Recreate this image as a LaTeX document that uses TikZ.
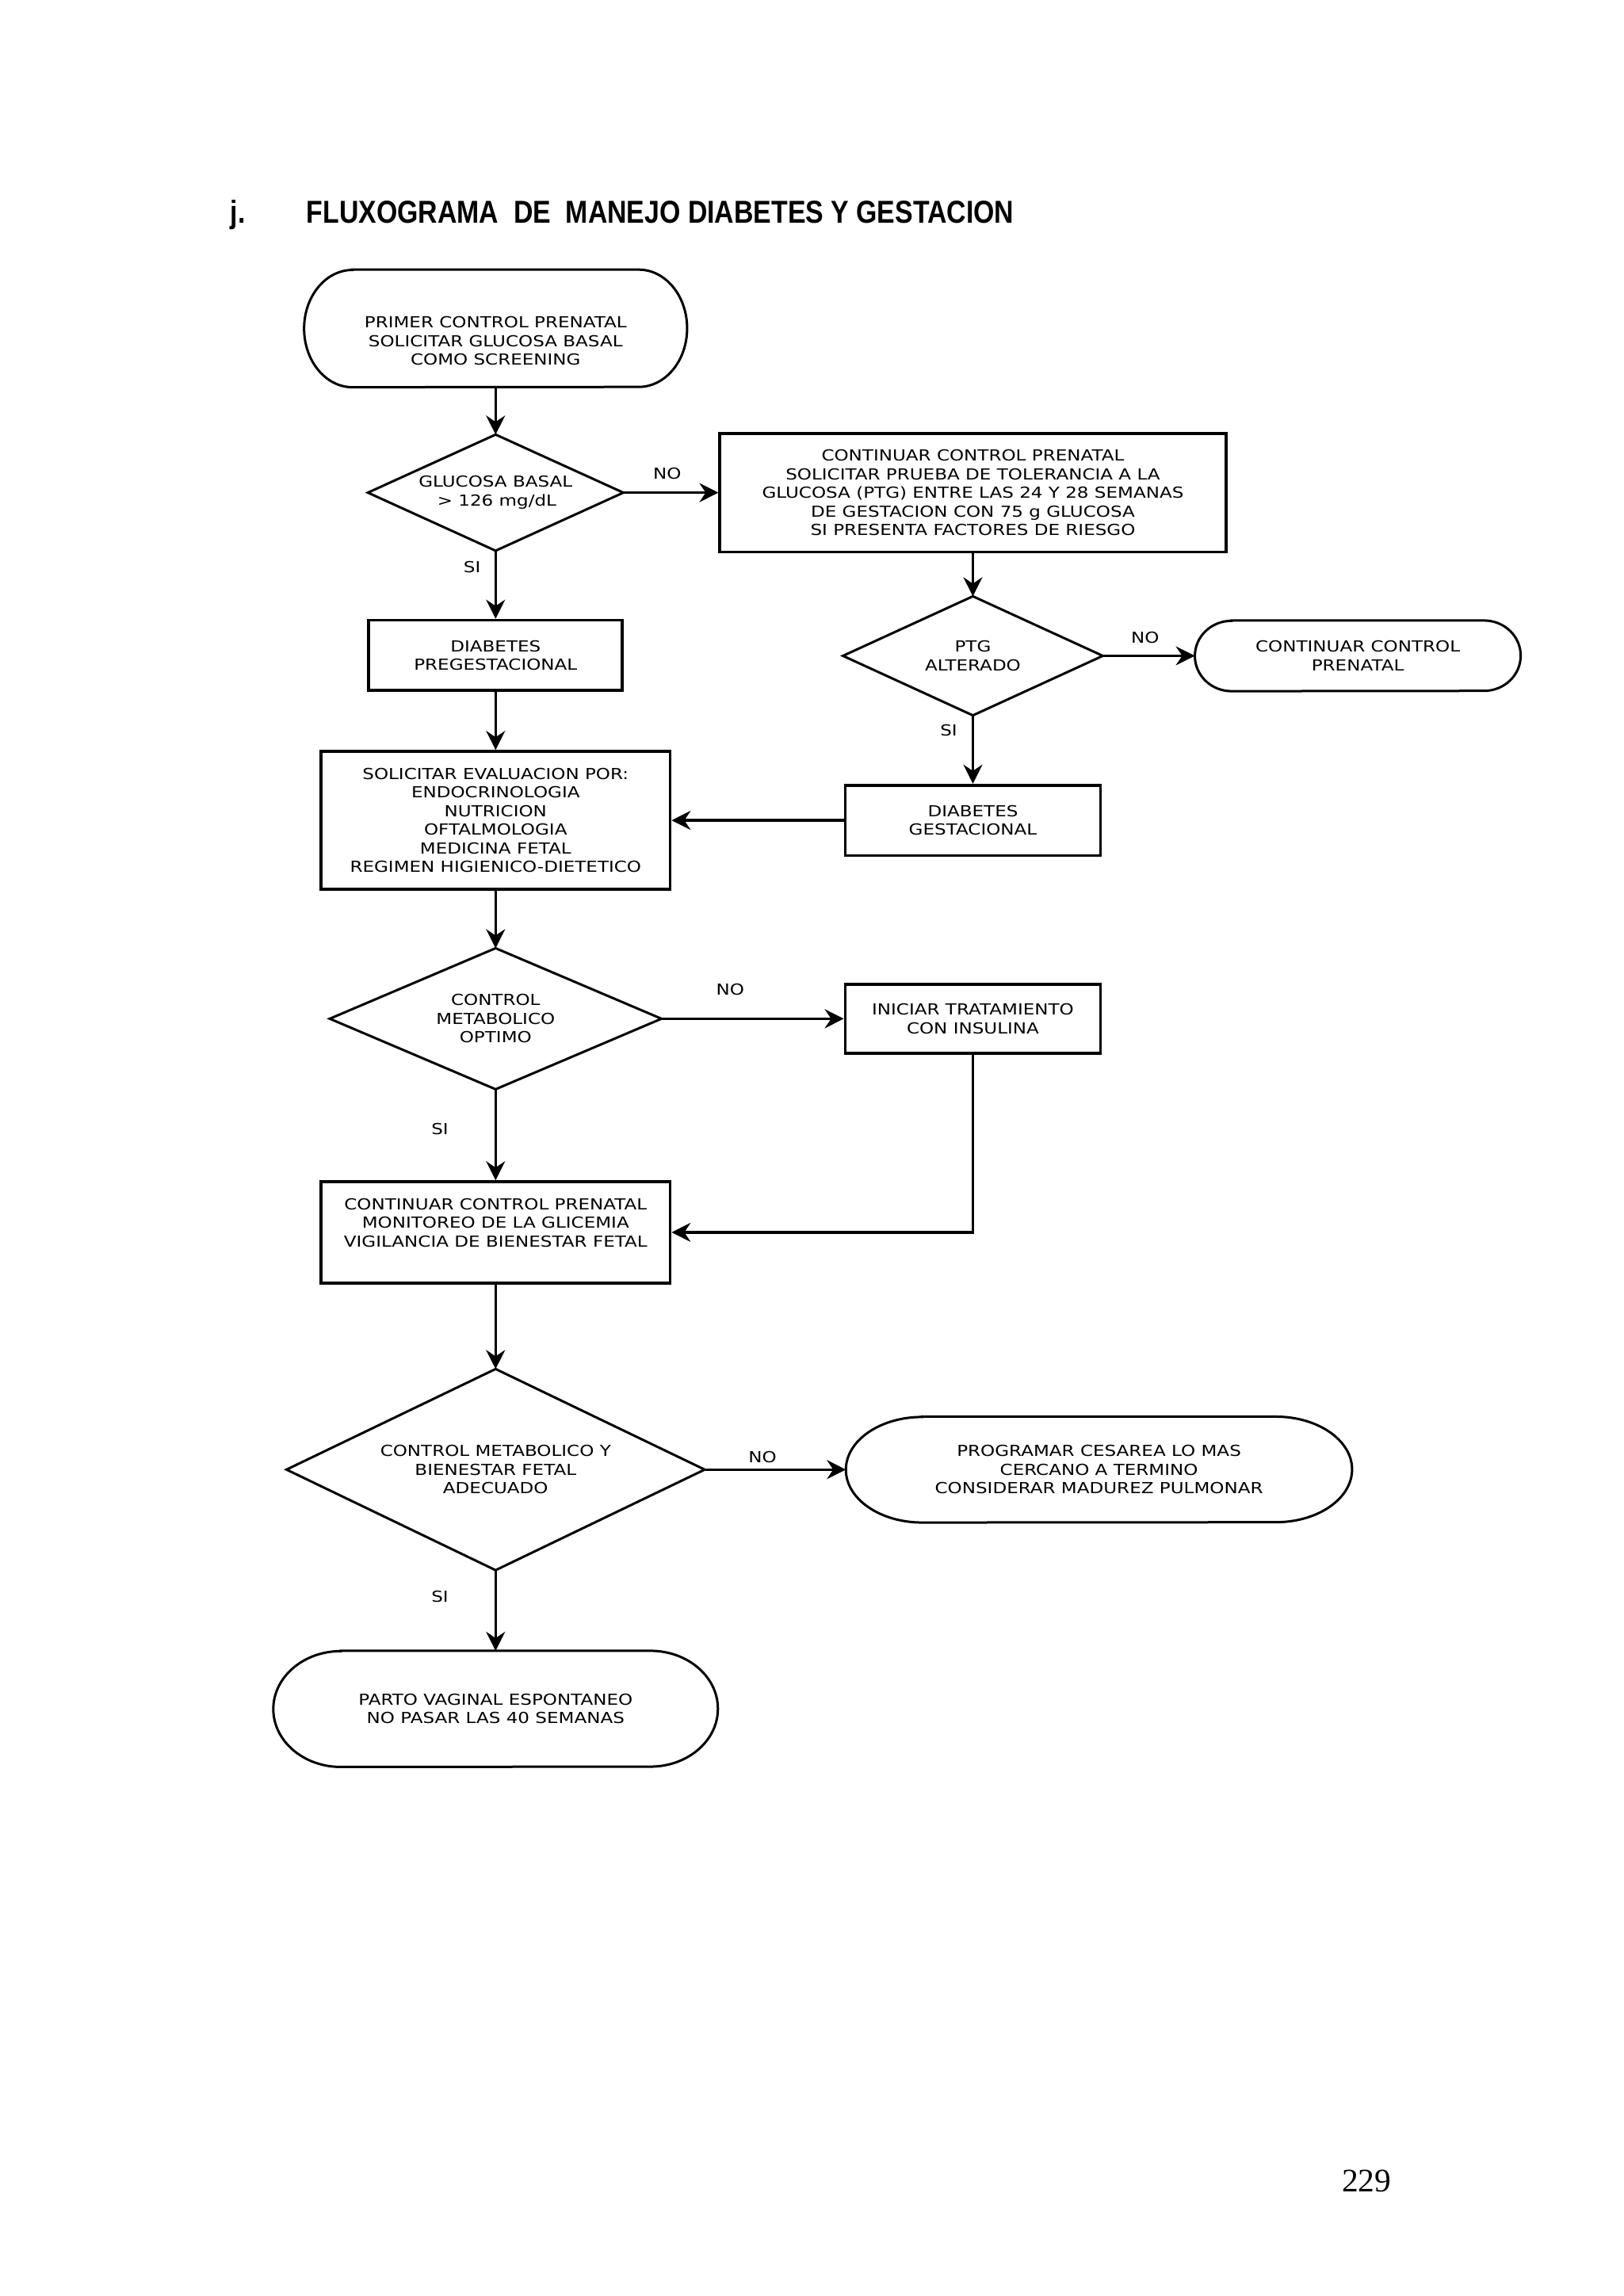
\documentclass[tikz,border=0pt]{standalone}
\usepackage{fontspec}
\usetikzlibrary{arrows.meta}
\newfontfamily\bodyff[FakeStretch=1.2]{DejaVu Sans}
\newfontfamily\titleff[FakeStretch=0.846]{Liberation Sans}
\newfontfamily\pageff{Liberation Serif}
\newcommand\bodyf{\bodyff\fontsize{19.2pt}{23.5pt}\selectfont}
\newcommand\titlef{\titleff\bfseries\fontsize{40pt}{46pt}\selectfont}
\newcommand\pagef{\pageff\fontsize{41.5pt}{48pt}\selectfont}
\newcommand\drawdia[1]{\draw[shapeline] (#1.north) -- (#1.east) -- (#1.south) -- (#1.west) -- cycle;}
\newcommand\drawterm[3]{\draw[shapeline] ([xshift=#2*1.85pt]#1.north west) -- ([xshift=-#2*1.85pt]#1.north east) arc[start angle=90,end angle=-90,x radius=#2*1.85pt,y radius=#3*1.85pt] -- ([xshift=#2*1.85pt]#1.south west) arc[start angle=270,end angle=90,x radius=#2*1.85pt,y radius=#3*1.85pt] -- cycle;}
\tikzset{
  sz/.style 2 args={minimum width=#1*1.85pt, minimum height=#2*1.85pt},
  bx/.style={draw, line width=3.8pt, inner sep=0pt, align=center, font=\bodyf},
  shp/.style={inner sep=0pt, align=center, font=\bodyf},
  txt/.style={inner sep=0pt, align=center, font=\bodyf},
  shapeline/.style={line width=3pt, line join=miter},
  arr/.style={line width=3.2pt, -{Stealth[length=24pt,width=24pt,inset=8pt]}},
  lbl/.style={font=\bodyf, inner sep=0pt},
}
\begin{document}
\begin{tikzpicture}[x=1.85pt,y=-1.85pt]
\useasboundingbox (0,0) rectangle (1107.03,1565.95);
% title
\node[anchor=base west, font=\titlef, inner sep=0pt] (tj) at (157,152.4) {j.};
\node[anchor=base west, font=\titlef, inner sep=0pt] (title) at (209,152.4) {FLUXOGRAMA\ \ DE\ \ MANEJO DIABETES Y GESTACION};
% shapes
\node[shp, sz={261}{80}] (oval1) at (338,224) {};
\node[txt] (t1) at (338,232.5) {PRIMER CONTROL PRENATAL\\SOLICITAR GLUCOSA BASAL\\COMO SCREENING};
\drawterm{oval1}{33}{40}
\node[shp, sz={174}{79}] (dia1) at (338,336) {GLUCOSA BASAL\\\,> 126 mg/dL};
\drawdia{dia1}
\node[bx, sz={345}{81}] (box2) at (663.5,336) {CONTINUAR CONTROL PRENATAL\\SOLICITAR PRUEBA DE TOLERANCIA A LA\\GLUCOSA (PTG) ENTRE LAS 24 Y 28 SEMANAS\\DE GESTACION CON 75 g GLUCOSA\\SI PRESENTA FACTORES DE RIESGO};
\node[bx, sz={173}{48}] (box3) at (338,447) {DIABETES\\PREGESTACIONAL};
\node[shp, sz={177}{81}] (dia2) at (663.5,447.3) {PTG\\ALTERADO};
\drawdia{dia2}
\node[shp, sz={222}{48}] (oval2) at (926,447.3) {CONTINUAR CONTROL\\PRENATAL};
\drawterm{oval2}{25}{24}
\node[bx, sz={174}{48}] (box4) at (663.5,559.5) {DIABETES\\GESTACIONAL};
\node[bx, sz={238}{94}] (box5) at (338,559.5) {SOLICITAR EVALUACION POR:\\ENDOCRINOLOGIA\\NUTRICION\\OFTALMOLOGIA\\MEDICINA FETAL\\REGIMEN HIGIENICO-DIETETICO};
\node[shp, sz={226}{96}] (dia3) at (338,694.8) {CONTROL\\METABOLICO\\OPTIMO};
\drawdia{dia3}
\node[bx, sz={174}{47}] (box6) at (663.5,694.8) {INICIAR TRATAMIENTO\\CON INSULINA};
\node[bx, sz={238}{69}] (box7) at (338,840.5) {};
\node[txt] (t7) at (338,834) {CONTINUAR CONTROL PRENATAL\\MONITOREO DE LA GLICEMIA\\VIGILANCIA DE BIENESTAR FETAL};
\node[shp, sz={285}{137}] (dia4) at (338,1002.3) {CONTROL METABOLICO Y\\BIENESTAR FETAL\\ADECUADO};
\drawdia{dia4}
\node[shp, sz={345}{72}] (oval3) at (749.5,1002.3) {PROGRAMAR CESAREA LO MAS\\CERCANO A TERMINO\\CONSIDERAR MADUREZ PULMONAR};
\drawterm{oval3}{52}{36}
\node[shp, sz={303}{79}] (oval4) at (338,1165.5) {PARTO VAGINAL ESPONTANEO\\NO PASAR LAS 40 SEMANAS};
\drawterm{oval4}{46}{39.5}
% labels
\node[lbl] (l1) at (455,323) {NO};
\node[lbl] (l2) at (322,387) {SI};
\node[lbl] (l3) at (781,435) {NO};
\node[lbl] (l4) at (647,498) {SI};
\node[lbl] (l5) at (498,675) {NO};
\node[lbl] (l6) at (300,770) {SI};
\node[lbl] (l7) at (520,994) {NO};
\node[lbl] (l8) at (300,1089) {SI};
% connectors
\draw[arr] (oval1.south) -- (dia1.north);
\draw[arr] (dia1.east) -- (box2.west);
\draw[arr] (dia1.south) -- (box3.north);
\draw[arr] (box2.south) -- (dia2.north);
\draw[arr] (dia2.east) -- (oval2.west);
\draw[arr] (dia2.south) -- (box4.north);
\draw[arr] (box4.west) -- (box5.east);
\draw[arr] (box3.south) -- (box5.north);
\draw[arr] (box5.south) -- (dia3.north);
\draw[arr] (dia3.east) -- (box6.west);
\draw[arr] (dia3.south) -- (box7.north);
\draw[arr] (box6.south) |- (box7.east);
\draw[arr] (box7.south) -- (dia4.north);
\draw[arr] (dia4.east) -- (oval3.west);
\draw[arr] (dia4.south) -- (oval4.north);
% page number
\node[anchor=base, font=\pagef, inner sep=0pt] (pnum) at (932,1494.6) {229};
\end{tikzpicture}
\end{document}
